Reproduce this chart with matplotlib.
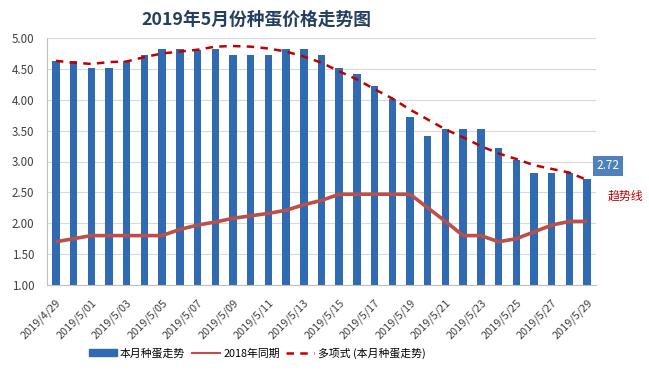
import numpy as np
import matplotlib
matplotlib.use('Agg')
import matplotlib.pyplot as plt
from matplotlib.lines import Line2D
from matplotlib.patches import Patch

plt.rcParams['font.family'] = ['Noto Sans CJK SC', 'DejaVu Sans']

# dates 2019/4/29 .. 2019/5/29
dates = ['2019/4/29', '2019/4/30'] + ['2019/5/%02d' % d for d in range(1, 30)]

# this month's breeding egg price
price_2019 = [4.63, 4.63, 4.52, 4.52, 4.62, 4.72, 4.82, 4.82, 4.80, 4.82,
              4.72, 4.72, 4.72, 4.82, 4.82, 4.72, 4.52, 4.42, 4.22, 4.02,
              3.72, 3.42, 3.52, 3.52, 3.52, 3.22, 3.02, 2.82, 2.82, 2.82,
              2.72]

# same period last year
price_2018 = [1.70, 1.75, 1.80, 1.80, 1.80, 1.80, 1.80, 1.90, 1.97, 2.02,
              2.08, 2.12, 2.16, 2.21, 2.30, 2.37, 2.47, 2.47, 2.47, 2.47,
              2.47, 2.25, 2.03, 1.80, 1.80, 1.70, 1.75, 1.86, 1.97, 2.03,
              2.03]

# polynomial trend line
trend = [4.63, 4.60, 4.58, 4.61, 4.62, 4.69, 4.75, 4.78, 4.81, 4.86,
         4.87, 4.86, 4.83, 4.78, 4.70, 4.60, 4.46, 4.33, 4.17, 4.02,
         3.84, 3.68, 3.52, 3.39, 3.25, 3.13, 3.04, 2.94, 2.88, 2.82,
         2.70]

yticks = np.arange(1.0, 5.01, 0.5)

bar_color = '#2f6ab3'
line_color = '#b9504a'
trend_color = '#c00000'

fig = plt.figure(figsize=(6.49, 3.87), dpi=100)
ax = fig.add_axes([47/649, 1 - 285/387, (596-47)/649, (285-38)/387])

x = np.arange(len(dates))
ax.bar(x, np.array(price_2019) - 1.0, bottom=1.0, width=0.42, color=bar_color, zorder=2)
ax.plot(x, price_2018, color=line_color, lw=2.6, zorder=3, solid_capstyle='butt')
ax.plot(x, trend, color=trend_color, lw=1.8, ls=(0, (3, 2.5)), zorder=4)

ax.set_xlim(-0.5, len(dates) - 0.5)
ax.set_ylim(1.0, 5.0)
ax.set_yticks(yticks)
ax.set_yticklabels(['%.2f' % v for v in yticks], fontsize=8.3, color='#404040')
ax.set_xticks(x[::2])
ax.set_xticklabels(dates[::2], rotation=45, ha='right', rotation_mode='anchor',
                   fontsize=7.9, color='#404040')
ax.tick_params(length=0)
ax.tick_params(axis='y', pad=9)
ax.tick_params(axis='x', pad=9)
ax.grid(axis='y', color='#d9d9d9', lw=0.8, zorder=0)
for s in ['top', 'right']:
    ax.spines[s].set_visible(False)
ax.spines['left'].set_color('#bfbfbf')
ax.spines['bottom'].set_color('#bfbfbf')

# data label on last bar
ax.annotate('%.2f' % price_2019[-1], xy=(x[-1], price_2019[-1]), xytext=(21, 13),
            textcoords='offset pixels', ha='center', va='center', color='white',
            fontsize=8.5, annotation_clip=False,
            bbox=dict(boxstyle='square,pad=0.3', fc='#4f81bd', ec='none'))
fig.text(625/649, 1 - 196/387, '趋势线', color=trend_color, fontsize=8.6,
         ha='center', va='center')

fig.text(256/649, 1 - 20/387, '2019年5月份种蛋价格走势图', fontsize=12.8,
         fontweight='bold', color='#243f60', ha='center', va='center')

handles = [Patch(color=bar_color),
           Line2D([], [], color=line_color, lw=1.5),
           Line2D([], [], color=trend_color, lw=1.8, ls=(0, (3, 2.5)))]
labels = ['本月种蛋走势', '2018年同期', '多项式 (本月种蛋走势)']
fig.legend(handles, labels, loc='center', bbox_to_anchor=(257/649, 1 - 353/387),
           ncol=3, frameon=False, fontsize=7.8, handlelength=2.6,
           handletextpad=0.3, columnspacing=0.6, handleheight=0.6)

fig.savefig('out.png', dpi=100)
